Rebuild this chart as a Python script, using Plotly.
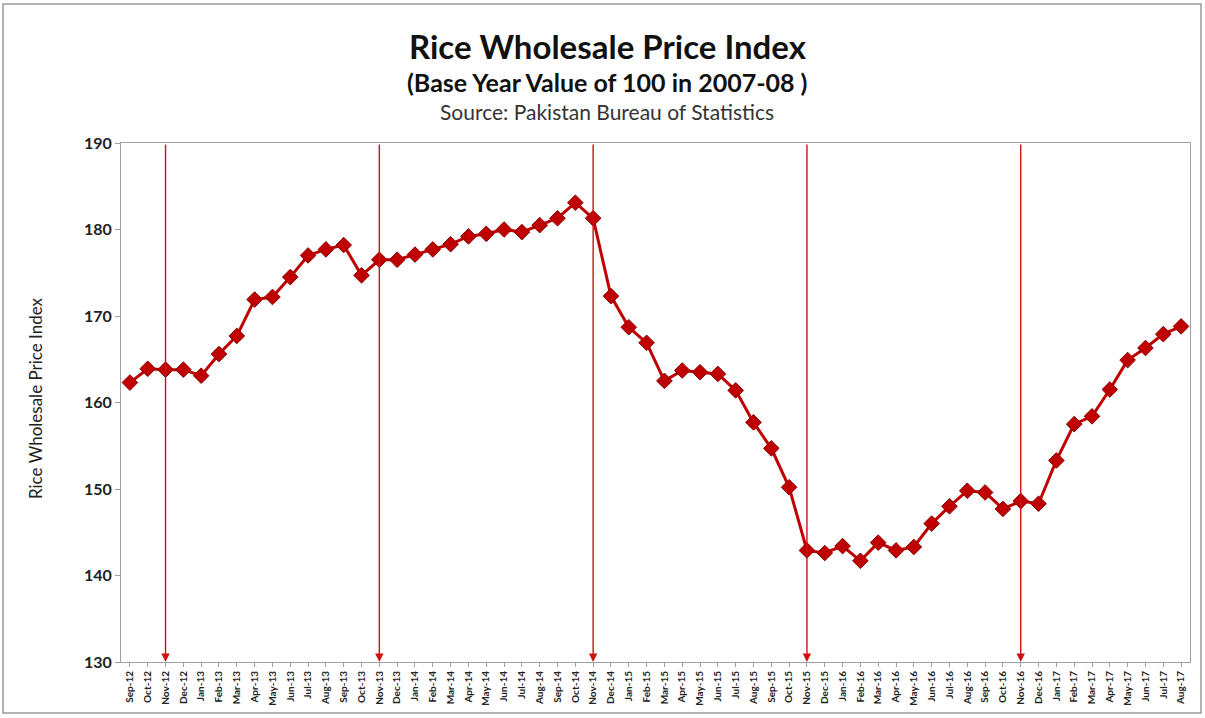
import plotly.graph_objects as go

months = ["Sep-12","Oct-12","Nov-12","Dec-12","Jan-13","Feb-13","Mar-13","Apr-13","May-13","Jun-13",
          "Jul-13","Aug-13","Sep-13","Oct-13","Nov-13","Dec-13","Jan-14","Feb-14","Mar-14","Apr-14",
          "May-14","Jun-14","Jul-14","Aug-14","Sep-14","Oct-14","Nov-14","Dec-14","Jan-15","Feb-15",
          "Mar-15","Apr-15","May-15","Jun-15","Jul-15","Aug-15","Sep-15","Oct-15","Nov-15","Dec-15",
          "Jan-16","Feb-16","Mar-16","Apr-16","May-16","Jun-16","Jul-16","Aug-16","Sep-16","Oct-16",
          "Nov-16","Dec-16","Jan-17","Feb-17","Mar-17","Apr-17","May-17","Jun-17","Jul-17","Aug-17"]

index_values = [162.3, 163.9, 163.8, 163.8, 163.1, 165.6, 167.7, 171.9, 172.2, 174.5,
                177.0, 177.7, 178.2, 174.7, 176.5, 176.5, 177.1, 177.7, 178.3, 179.2,
                179.5, 180.0, 179.7, 180.5, 181.3, 183.1, 181.3, 172.3, 168.7, 166.9,
                162.5, 163.7, 163.5, 163.3, 161.4, 157.7, 154.7, 150.2, 142.9, 142.6,
                143.4, 141.7, 143.8, 142.9, 143.3, 146.0, 148.0, 149.8, 149.6, 147.7,
                148.6, 148.3, 153.3, 157.5, 158.4, 161.5, 164.9, 166.3, 167.9, 168.8]

arrow_months = ["Nov-12", "Nov-13", "Nov-14", "Nov-15", "Nov-16"]

y_ticks = [130, 140, 150, 160, 170, 180, 190]

W, H = 1205, 718
L, R, T, B = 121, 1190, 143, 662

x_idx = list(range(len(months)))

fig = go.Figure()
fig.add_trace(go.Scatter(
    x=x_idx, y=index_values, mode="lines+markers",
    line=dict(color="#C00000", width=3),
    marker=dict(symbol="diamond", size=12, color="#C00000",
                line=dict(color="#8B0000", width=1)),
    showlegend=False, hoverinfo="x+y"))

for m in arrow_months:
    i = months.index(m)
    fig.add_annotation(x=i, y=y_ticks[0], ax=i, ay=y_ticks[-1],
                       xref="x", yref="y", axref="x", ayref="y",
                       showarrow=True, arrowhead=2, arrowsize=1.2, arrowwidth=1.4,
                       arrowcolor="#CC1111", text="")

def px2paper_x(px):
    return (px - L) / (R - L)

def px2paper_y(py):
    return (B - py) / (B - T)

fig.add_annotation(x=px2paper_x(608), y=px2paper_y(46), xref="paper", yref="paper",
                   text="<b>Rice Wholesale Price Index</b>", showarrow=False,
                   font=dict(family="Lato", size=33, color="#111111"),
                   xanchor="center", yanchor="middle")
fig.add_annotation(x=px2paper_x(607), y=px2paper_y(82), xref="paper", yref="paper",
                   text="<b>(Base Year Value of 100 in 2007-08 )</b>", showarrow=False,
                   font=dict(family="Lato", size=25, color="#111111"),
                   xanchor="center", yanchor="middle")
fig.add_annotation(x=px2paper_x(607), y=px2paper_y(112), xref="paper", yref="paper",
                   text="Source: Pakistan Bureau of Statistics", showarrow=False,
                   font=dict(family="Lato", size=21, color="#333333"),
                   xanchor="center", yanchor="middle")
fig.add_annotation(x=px2paper_x(35), y=px2paper_y(398), xref="paper", yref="paper",
                   text="Rice Wholesale Price Index", showarrow=False, textangle=-90,
                   font=dict(family="Lato", size=17, color="#222222"),
                   xanchor="center", yanchor="middle")

# outer frame
fig.add_shape(type="rect", xref="paper", yref="paper",
              x0=px2paper_x(3), x1=px2paper_x(1201), y0=px2paper_y(713), y1=px2paper_y(4),
              line=dict(color="#9a9a9a", width=1.5), fillcolor="rgba(0,0,0,0)", layer="below")

fig.update_layout(
    width=W, height=H,
    margin=dict(l=L, r=W - R, t=T, b=H - B),
    paper_bgcolor="white", plot_bgcolor="white",
    xaxis=dict(range=[-0.5, len(months) - 0.5], tickmode="array", tickvals=x_idx,
               ticktext=["<b>%s</b>" % m for m in months], tickangle=-90,
               tickfont=dict(family="Lato", size=10, color="#222222"),
               showgrid=False, zeroline=False, showline=True, linecolor="#a0a0a0",
               linewidth=1, mirror=True, ticks="outside", ticklen=4, tickcolor="#a0a0a0"),
    yaxis=dict(range=[y_ticks[0], y_ticks[-1]], tickmode="array", tickvals=y_ticks,
               ticktext=["<b>%d</b>" % v for v in y_ticks],
               tickfont=dict(family="Lato", size=16, color="#222222"),
               showgrid=False, zeroline=False, showline=True, linecolor="#a0a0a0",
               linewidth=1, mirror=True, ticks="outside", ticklen=5, tickcolor="#a0a0a0"),
)

fig.write_html("out.html")
